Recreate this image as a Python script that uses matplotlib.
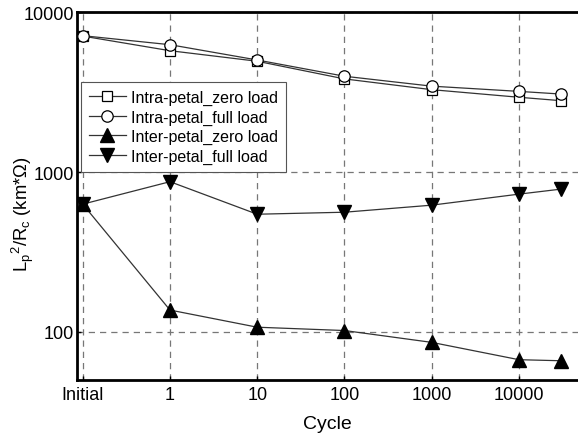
import matplotlib
matplotlib.use("Agg")
import matplotlib.pyplot as plt
from matplotlib.ticker import FixedLocator, NullLocator, FixedFormatter

plt.rcParams['font.family'] = ['Liberation Sans', 'DejaVu Sans']
plt.rcParams['mathtext.fontset'] = 'custom'
plt.rcParams['mathtext.rm'] = 'Liberation Sans'
plt.rcParams['mathtext.it'] = 'Liberation Sans:italic'

cycles = [0.1, 1, 10, 100, 1000, 10000, 30000]
tick_pos = [0.1, 1, 10, 100, 1000, 10000]
tick_labels = ["Initial", "1", "10", "100", "1000", "10000"]

intra_zero = [7100, 5750, 4940, 3830, 3280, 2940, 2800]
intra_full = [7140, 6270, 5030, 3980, 3450, 3200, 3080]
inter_zero = [630, 137, 107, 102, 86, 67, 66]
inter_full = [630, 871, 545, 561, 621, 728, 782]

fig = plt.figure(figsize=(5.78, 4.39), dpi=100)
ax = fig.add_axes([0.1327, 0.1321, 0.8673, 0.8376])
ax.set_xscale('log')
ax.set_yscale('log')

lc = '#333333'
ax.plot(cycles, intra_zero, '-', color=lc, lw=0.9, marker='s', ms=7.2,
        mfc='white', mec='black', mew=0.9, label='Intra-petal_zero load', zorder=3)
ax.plot(cycles, intra_full, '-', color=lc, lw=0.9, marker='o', ms=8.2,
        mfc='white', mec='black', mew=0.9, label='Intra-petal_full load', zorder=3)
ax.plot(cycles, inter_zero, '-', color=lc, lw=0.9, marker='^', ms=10,
        mfc='black', mec='black', label='Inter-petal_zero load', zorder=3)
ax.plot(cycles, inter_full, '-', color=lc, lw=0.9, marker='v', ms=10,
        mfc='black', mec='black', label='Inter-petal_full load', zorder=3)

ax.set_xlim(0.0853, 47500)
ax.set_ylim(50, 10000)

ax.xaxis.set_major_locator(FixedLocator(tick_pos))
ax.xaxis.set_major_formatter(FixedFormatter(tick_labels))
ax.xaxis.set_minor_locator(NullLocator())
ax.yaxis.set_major_locator(FixedLocator([100, 1000, 10000]))
ax.yaxis.set_major_formatter(FixedFormatter(["100", "1000", "10000"]))
ax.yaxis.set_minor_locator(NullLocator())

ax.tick_params(axis='both', which='major', direction='in', length=3,
               width=1, labelsize=13, pad=4)
ax.tick_params(axis='y', pad=2)

ax.grid(True, which='major', linestyle=(0, (5, 4)), color='#777777', lw=0.9)
ax.set_axisbelow(True)

for s in ['top', 'left', 'bottom']:
    ax.spines[s].set_linewidth(2)
    ax.spines[s].set_color('black')
ax.spines['right'].set_visible(False)

ax.set_xlabel('Cycle', fontsize=14, labelpad=9)
ax.set_ylabel(r'L$_\mathrm{p}$$^\mathrm{2}$/R$_\mathrm{c}$ (km*Ω)', fontsize=13.3)
ax.yaxis.set_label_coords(-0.082, 0.454)

leg = ax.legend(loc='upper left', bbox_to_anchor=(0.0086, 0.811), fontsize=11.5,
                frameon=True, fancybox=False, framealpha=1, edgecolor='#555555',
                handlelength=2.3, handletextpad=0.3, labelspacing=0.28,
                borderpad=0.5, borderaxespad=0)
leg.get_frame().set_linewidth(0.8)

fig.savefig('out.png', dpi=100)
